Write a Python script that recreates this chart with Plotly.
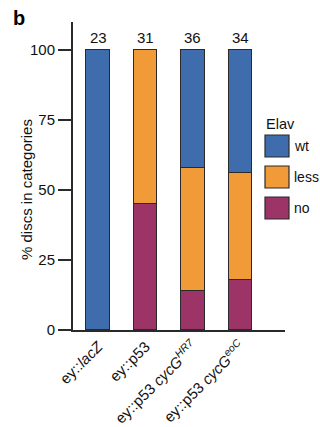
import plotly.graph_objects as go

categories = ["ey::<i>lacZ</i>", "ey::p53", "ey::p53 <i>cycG</i><sup><i>HR7</i></sup>", "ey::p53 <i>cycG</i><sup><i>eoC</i></sup>"]
no_vals = [0, 45, 14, 18]
less_vals = [0, 55, 44, 38]
wt_vals = [100, 0, 42, 44]
counts = [23, 31, 36, 34]
series_names = ["wt", "less", "no"]
colors = {"wt": "#3F6CAD", "less": "#F09A38", "no": "#9C3467"}

x = list(range(len(categories)))
FONT = "Liberation Sans, Arial, sans-serif"
line_c = "#2a2a2a"

fig = go.Figure()
for name, vals in [("no", no_vals), ("less", less_vals), ("wt", wt_vals)]:
    fig.add_trace(go.Bar(
        x=x, y=vals, name=name, width=0.5,
        marker=dict(color=colors[name], line=dict(color=line_c, width=1.2)),
        showlegend=False,
    ))

for xi, c in zip(x, counts):
    fig.add_annotation(x=xi, y=100, text=str(c), showarrow=False,
                       yanchor="bottom", yshift=2, font=dict(size=15, color="#111"))

# manual legend (paper coords)
L, W, T, H = 73, 212, 22, 308
def px(v):
    return (v - L) / W
def py(v):
    return (T + H - v) / H

fig.add_annotation(xref="paper", yref="paper", x=px(264), y=py(124), text="Elav",
                   showarrow=False, xanchor="left", yanchor="middle",
                   font=dict(size=14.5, color="#111"))
for i, name in enumerate(series_names):
    top = 135 + i * 31
    fig.add_shape(type="rect", xref="paper", yref="paper",
                  x0=px(265), x1=px(289), y0=py(top), y1=py(top + 22),
                  fillcolor=colors[name], line=dict(color=line_c, width=1.2))
    fig.add_annotation(xref="paper", yref="paper", x=px(292), y=py(top + 11), text=name,
                       showarrow=False, xanchor="left", yanchor="middle",
                       font=dict(size=14, color="#111"))

fig.add_annotation(xref="paper", yref="paper", x=px(11), y=py(18), text="<b>b</b>",
                   showarrow=False, xanchor="left", yanchor="middle",
                   font=dict(size=20, color="#000"))

# y-axis title as rotated annotation
fig.add_annotation(xref="paper", yref="paper", x=px(26), y=py(190),
                   text="% discs in categories", textangle=-90, showarrow=False,
                   xanchor="center", yanchor="middle", font=dict(size=15, color="#111"))

fig.update_layout(
    width=320, height=427,
    margin=dict(l=L, r=320 - L - W, t=T, b=427 - T - H),
    barmode="stack",
    plot_bgcolor="white", paper_bgcolor="white",
    font=dict(family=FONT, size=15, color="#111"),
    bargap=0,
)
fig.update_xaxes(
    range=[-0.53, 3.94], tickmode="array", tickvals=x, ticktext=categories,
    tickangle=-45, showline=True, linecolor=line_c, linewidth=2,
    ticks="", showgrid=False, zeroline=False, tickfont=dict(size=15),
    automargin=False,
)
fig.update_yaxes(
    range=[0, 110], tickvals=[0, 25, 50, 75, 100], showline=True, linecolor=line_c,
    linewidth=2, ticks="outside", ticklen=13, tickwidth=2, tickcolor=line_c,
    showgrid=False, zeroline=False, tickfont=dict(size=15),
    automargin=False,
)

fig.write_html("out.html", config={"displayModeBar": False},
               post_script="document.body.style.margin='0';document.body.style.overflow='hidden';")
